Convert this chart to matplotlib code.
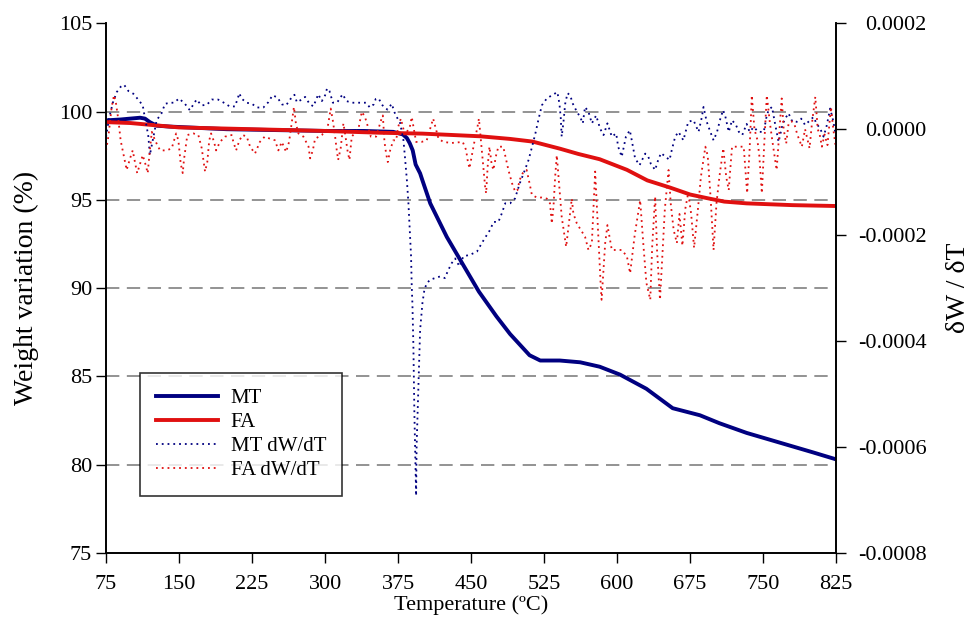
import matplotlib
matplotlib.use('Agg')
import matplotlib.pyplot as plt
from matplotlib.ticker import FormatStrFormatter

plt.rcParams['font.family'] = ['Liberation Serif', 'DejaVu Serif']
plt.rcParams['axes.unicode_minus'] = False

# weight curves (%)
mt_t = [75, 90, 100, 110, 115, 120, 127, 140, 199, 250, 302, 340, 370, 380, 384, 387, 390, 393,
        397.6, 400, 408, 425, 442, 458, 476, 490, 500, 510, 521, 541, 562, 582, 603, 630, 657,
        685, 705, 733, 767, 801, 825]
mt_w = [99.5, 99.55, 99.6, 99.65, 99.6, 99.4, 99.2, 99.15, 99.0, 98.95, 98.9, 98.9, 98.85, 98.7,
        98.5, 98.2, 97.8, 97.0, 96.5, 96.1, 94.8, 92.9, 91.3, 89.8, 88.4, 87.4, 86.8, 86.2, 85.9,
        85.9, 85.8, 85.55, 85.1, 84.3, 83.2, 82.8, 82.35, 81.8, 81.25, 80.7, 80.3]

fa_t = [75, 100, 150, 225, 300, 356, 400, 459, 490, 513, 541, 560, 582, 610, 631, 654, 675, 692,
        710, 733, 780, 825]
fa_w = [99.4, 99.35, 99.1, 99.0, 98.9, 98.8, 98.75, 98.6, 98.45, 98.3, 97.9, 97.6, 97.3, 96.7,
        96.1, 95.7, 95.3, 95.1, 94.9, 94.8, 94.7, 94.65]

# derivative curves, (temperature, dW/dT x 1e-4)
mt_dtg = [(75, -0.15), (78, 0.2), (82, 0.5), (86, 0.7), (90, 0.8), (93.5, 0.84), (98, 0.72),
          (103, 0.67), (108, 0.56), (112.7, 0.45), (114, 0.31), (116.8, 0.04), (118.5, -0.14),
          (120, -0.49), (122, -0.3), (127, 0.17), (132, 0.30), (135.6, 0.48), (140.8, 0.50),
          (144.8, 0.50), (150, 0.58), (156, 0.48), (161, 0.36), (168, 0.56), (173, 0.45),
          (178.5, 0.46), (183.6, 0.56), (190, 0.56), (196, 0.50), (202, 0.43), (207.5, 0.43),
          (212, 0.68), (214, 0.58), (219.5, 0.50), (224.7, 0.48), (230.4, 0.41), (236.6, 0.41),
          (241.7, 0.51), (246, 0.64), (251, 0.60), (255.5, 0.47), (260, 0.45), (264, 0.56),
          (268.5, 0.65), (271, 0.51), (276, 0.56), (279.5, 0.61), (284, 0.48), (288, 0.43),
          (293, 0.66), (296.6, 0.53), (300, 0.64), (302, 0.77), (304.5, 0.72), (308, 0.50),
          (312.6, 0.51), (318, 0.66), (322, 0.53), (328, 0.50), (335, 0.50), (342, 0.50),
          (346, 0.41), (350, 0.47), (352, 0.57), (355, 0.58), (359, 0.45), (364, 0.37),
          (368.5, 0.48), (371, 0.33), (373.6, 0.23), (377, 0.12), (380.5, -0.21), (382, -0.52),
          (384, -0.96), (385.6, -1.40), (387, -1.9), (388.3, -2.40), (389, -2.97), (389.7, -3.3),
          (390.7, -4.1), (391.7, -5.35), (393.5, -6.92), (394, -5.98), (396, -4.73),
          (397.6, -3.79), (400, -3.28), (402, -3.03), (404.4, -2.91), (408, -2.84), (413, -2.81),
          (418, -2.78), (423, -2.81), (426.5, -2.66), (430, -2.53), (433.6, -2.44), (438, -2.59),
          (442, -2.40), (449, -2.37), (456, -2.31), (461, -2.15), (466, -2.0), (469.5, -1.9),
          (473, -1.75), (478, -1.75), (481.5, -1.59), (485, -1.40), (490, -1.40), (495, -1.31),
          (500, -1.02), (504, -0.83), (509, -0.58), (512.6, -0.33), (516, -0.08), (519, 0.17),
          (522.6, 0.45), (527.7, 0.58), (532.9, 0.64), (538.6, 0.70), (540.7, 0.48), (542, 0.23),
          (543, -0.14), (544.7, 0.11), (546.6, 0.48), (549, 0.68), (551.7, 0.64), (554.5, 0.48),
          (558.6, 0.33), (562, 0.23), (564.7, 0.11), (567, 0.42), (570.5, 0.33), (574, 0.11),
          (578.4, 0.26), (582.5, 0.01), (586, -0.11), (590, 0.11), (594.5, -0.14), (599, -0.08),
          (601, -0.33), (604.7, -0.52), (609, -0.14), (613, -0.02), (615, -0.21), (618.4, -0.55),
          (623, -0.68), (628.8, -0.46), (632, -0.52), (634.5, -0.65), (639, -0.77),
          (641.4, -0.62), (645, -0.45), (649, -0.51), (653.8, -0.58), (656, -0.40),
          (659.6, -0.14), (663, -0.05), (668, -0.21), (673, 0.14), (678.4, 0.17), (683.6, -0.05),
          (687, 0.23), (688.7, 0.42), (692, 0.14), (695.7, -0.05), (699, -0.21), (702.6, -0.05),
          (706, 0.20), (708.8, 0.36), (711, 0.25), (714.6, -0.05), (718, 0.17), (722, 0.08),
          (725, -0.05), (728.5, -0.11), (733, 0.10), (736, -0.05), (740.3, 0.04), (745, -0.05),
          (750.6, -0.05), (753, 0.20), (755.4, 0.36), (759, 0.42), (762.4, 0.08), (765.8, -0.24),
          (770, 0.10), (773.6, 0.23), (776, 0.30), (780, 0.14), (784.5, 0.14), (789, 0.20),
          (793, 0.08), (797, 0.15), (801.6, 0.23), (805, 0.10), (808.6, 0.01), (812, -0.14),
          (815, 0.05), (818.8, 0.39), (822, 0.15), (825, -0.18)]

fa_dtg = [(75, -0.40), (77.4, -0.14), (80.8, 0.42), (83.2, 0.64), (85.3, 0.48), (87.7, 0.17),
          (90, -0.21), (92.8, -0.46), (96.2, -0.77), (99.7, -0.55), (102.4, -0.40), (105, -0.65),
          (107, -0.83), (110, -0.65), (112.7, -0.49), (115.8, -0.68), (117.8, -0.83), (120, -0.40),
          (122, -0.05), (125.3, -0.21), (130.5, -0.40), (137.4, -0.40), (142.5, -0.36),
          (147, -0.08), (149.3, -0.21), (151.7, -0.65), (153.8, -0.83), (155, -0.58),
          (158.5, -0.11), (164.7, -0.08), (169.8, -0.11), (173.3, -0.36), (176.7, -0.80),
          (179, -0.62), (181, -0.21), (182.9, -0.08), (186, -0.24), (188, -0.40), (192, -0.24),
          (197.3, -0.14), (204, -0.11), (205.8, -0.24), (208.6, -0.40), (212, -0.21),
          (215.4, -0.11), (219.5, -0.14), (223, -0.33), (228, -0.46), (233, -0.24), (238, -0.14),
          (243.5, -0.18), (248.6, -0.21), (252, -0.40), (255.5, -0.24), (260, -0.43),
          (263, -0.24), (266.8, 0.26), (268, 0.42), (270, 0.11), (272.6, -0.08), (277.7, -0.14),
          (283, -0.33), (284.6, -0.55), (287.4, -0.40), (289.7, -0.18), (296.6, -0.11),
          (302.4, 0.01), (305.8, 0.39), (307.9, 0.17), (310.3, -0.14), (312, -0.40),
          (313.4, -0.58), (316, -0.36), (318.8, 0.11), (320.5, -0.08), (323, -0.40), (325, -0.58),
          (327.4, -0.14), (334.3, 0.01), (337.7, 0.33), (341, 0.23), (344.5, 0.01), (347, -0.14),
          (352.4, -0.14), (357.5, 0.17), (359.3, 0.26), (361, -0.24), (362.7, -0.46),
          (364.4, -0.62), (366.8, -0.40), (370, -0.21), (373, -0.21), (375, 0.04), (377.8, 0.20),
          (382, -0.11), (387, 0.04), (389, 0.23), (393.5, -0.24), (399, -0.24), (404.4, -0.21),
          (411, 0.20), (416.5, -0.18), (421.5, -0.24), (430, -0.26), (441.4, -0.24), (445, -0.40),
          (446, -0.55), (448.3, -0.74), (453, -0.27), (456.5, 0.04), (458, 0.20), (461, -0.40),
          (464.4, -1.09), (465.4, -1.21), (467, -0.70), (468.8, -0.33), (471, -0.65),
          (472.9, -0.77), (475.7, -0.49), (478, -0.33), (483, -0.33), (486, -0.58), (488.3, -0.77),
          (492, -1.02), (495.3, -1.18), (497.6, -1.15), (499.8, -0.96), (503, -0.83), (507, -0.77),
          (510, -1.02), (512.4, -1.24), (517.5, -1.29), (522.6, -1.29), (527.7, -1.31),
          (531, -1.40), (532.9, -1.78), (534.6, -1.46), (536.3, -0.90), (538, -0.49),
          (541.4, -1.27), (543, -1.65), (547.6, -2.22), (550, -1.84), (553.4, -1.31), (555, -1.59),
          (558.6, -1.78), (567, -2.03), (570.5, -2.28), (574, -2.15), (577.4, -0.80), (580, -1.8),
          (583, -2.91), (584, -3.22), (587.7, -2.15), (590, -1.81), (594.5, -2.28), (604.7, -2.28),
          (610, -2.40), (613.3, -2.72), (618, -2.0), (623.6, -1.34), (627, -2.2), (630, -2.9),
          (634, -3.22), (636, -2.2), (639, -1.27), (641, -2.3), (644, -3.22), (647, -2.2),
          (649, -1.5), (652.8, -0.77), (655, -1.4), (658, -1.9), (661.3, -2.15), (664, -1.6),
          (667, -2.2), (670, -1.5), (673, -1.2), (676, -1.6), (679, -2.24), (683, -1.5),
          (686, -0.9), (690.6, -0.33), (693, -0.5), (696, -1.3), (699, -2.28), (702, -1.4),
          (705, -0.9), (709, -0.36), (712, -0.9), (714.6, -1.15), (716, -0.8), (718, -0.33),
          (724, -0.33), (730, -0.33), (733.5, -1.21), (736, -0.4), (738.3, 0.64), (741, 0.0),
          (744, -0.2), (746, -0.5), (748.6, -1.21), (751, -0.3), (753.7, 0.64), (757, 0.1),
          (760, -0.3), (763.8, -0.77), (766, -0.2), (769, 0.58), (771, 0.0), (773.6, -0.27),
          (776, 0.1), (779, 0.15), (782, 0.1), (785, -0.1), (789.7, -0.33), (793, 0.0),
          (797.6, -0.36), (800, 0.1), (803.5, 0.61), (806, 0.0), (808, -0.1), (810.3, -0.33),
          (813, -0.1), (816, -0.3), (819.6, 0.42), (822, 0.0), (825, -0.40)]

mtd_t = [p[0] for p in mt_dtg]
mtd_v = [p[1] * 1e-4 for p in mt_dtg]
fad_t = [p[0] for p in fa_dtg]
fad_v = [p[1] * 1e-4 for p in fa_dtg]

navy = '#000080'
red = '#e01010'

fig = plt.figure(figsize=(9.71, 6.39), dpi=100)
ax = fig.add_axes([0.1092, 0.1346, 0.752, 0.829])
ax2 = ax.twinx()

ax.plot(mt_t, mt_w, color=navy, lw=2.8, label='MT')
ax.plot(fa_t, fa_w, color=red, lw=2.8, label='FA')
ax2.plot(mtd_t, mtd_v, color=navy, lw=1.3, ls=(0, (1, 2.2)), label='MT dW/dT')
ax2.plot(fad_t, fad_v, color=red, lw=1.3, ls=(0, (1, 2.2)), label='FA dW/dT')

for g in [80, 85, 90, 95, 100]:
    ax.axhline(g, color='#808080', lw=1.2, ls=(0, (8, 4.5)), zorder=0)

ax.set_xlim(75, 825)
ax.set_ylim(75, 105)
ax2.set_ylim(-0.0008, 0.0002)
ax.set_xticks(range(75, 826, 75))
ax.set_yticks(range(75, 106, 5))
ax2.set_yticks([-0.0008, -0.0006, -0.0004, -0.0002, 0.0, 0.0002])
ax2.yaxis.set_major_formatter(FormatStrFormatter('%.4f'))

for a in (ax, ax2):
    a.spines['top'].set_visible(False)
    for s in a.spines.values():
        s.set_linewidth(1.2)
ax.tick_params(axis='y', direction='out', length=7, width=1, labelsize=16, pad=3)
ax.tick_params(axis='x', direction='out', length=7, width=1, labelsize=16, pad=9)
# right-hand labels are right aligned, ending near x=926 px
ax2.tick_params(axis='y', direction='out', length=7, width=1, labelsize=16, pad=58)
for lab in ax2.get_yticklabels():
    lab.set_horizontalalignment('right')

ax.set_xlabel('Temperature (ºC)', fontsize=16, labelpad=1)
ax.set_ylabel('Weight variation (%)', fontsize=20, labelpad=14)
ax2.set_ylabel('δW / δT', fontsize=20, labelpad=14, rotation=90)

h1, l1 = ax.get_legend_handles_labels()
h2, l2 = ax2.get_legend_handles_labels()
leg = ax2.legend(h1 + h2, l1 + l2, loc='lower left', bbox_to_anchor=(0.0466, 0.1075),
                 borderaxespad=0, fontsize=15, frameon=True, fancybox=False,
                 edgecolor='black', handlelength=3.0, borderpad=0.75, labelspacing=0.22,
                 handletextpad=0.6)
leg.get_frame().set_linewidth(1.2)

fig.savefig('out.png', dpi=100)
